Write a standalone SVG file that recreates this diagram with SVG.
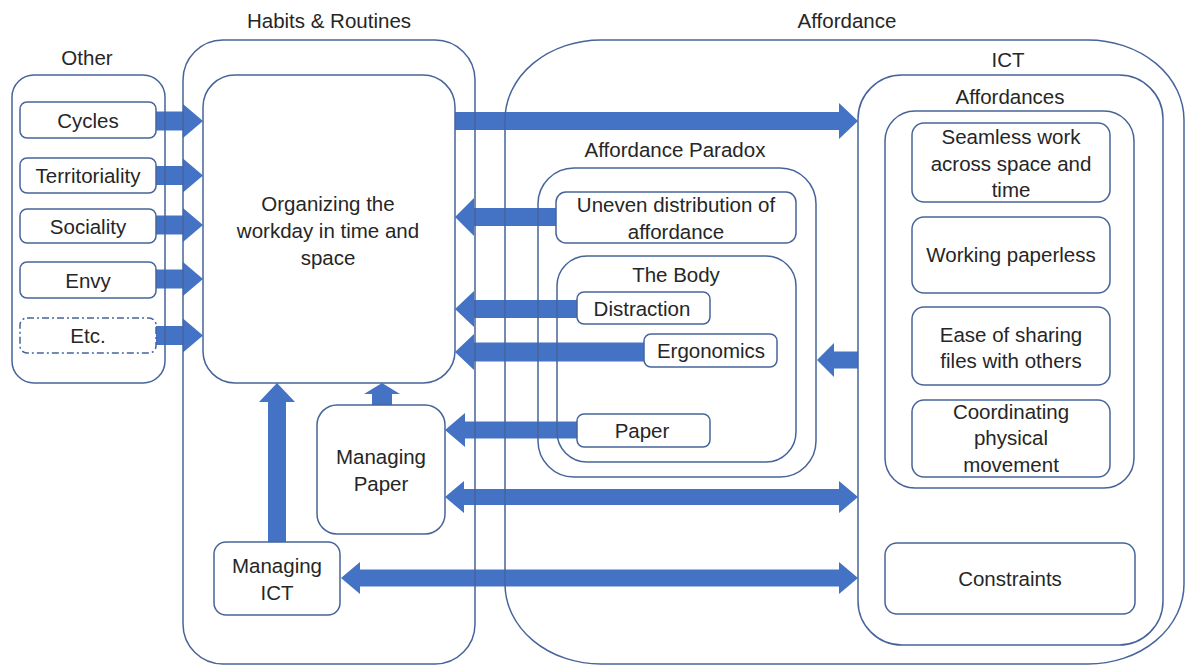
<svg xmlns="http://www.w3.org/2000/svg" width="1188" height="666" viewBox="0 0 1188 666">
<style>
.c{fill:none;stroke:#46649a;stroke-width:1.5}
.b{fill:#fff;stroke:#46649a;stroke-width:1.5}
.a{fill:#4472c4;stroke:none}
text{font-family:"Liberation Sans",Arial,sans-serif;font-size:20.5px;fill:#262626;text-anchor:middle}
</style>
<rect width="1188" height="666" fill="#fff"/>
<g id="connectors">
<polygon class="a" points="156,111.5 183,111.5 183,104 203,121 183,138 183,130.5 156,130.5"/>
<polygon class="a" points="156,166 183,166 183,158.5 203,175.5 183,192.5 183,185 156,185"/>
<polygon class="a" points="156,215.5 183,215.5 183,208 203,225 183,242 183,234.5 156,234.5"/>
<polygon class="a" points="156,269.5 183,269.5 183,262 203,279 183,296 183,288.5 156,288.5"/>
<polygon class="a" points="156,326 183,326 183,318.5 203,335.5 183,352.5 183,345 156,345"/>
<polygon class="a" points="455,112 839,112 839,103 858,121 839,139 839,130 455,130"/>
<polygon class="a" points="556,208 474,208 474,198 455,217 474,236 474,226 556,226"/>
<polygon class="a" points="577,300 474,300 474,291 455,309 474,327 474,318 577,318"/>
<polygon class="a" points="644,342.5 474,342.5 474,334 455,352 474,370 474,361.5 644,361.5"/>
<polygon class="a" points="858,351.5 834,351.5 834,343 817,360 834,377 834,368.5 858,368.5"/>
<polygon class="a" points="577,421.5 465,421.5 465,413 445,430 465,447 465,438.5 577,438.5"/>
<polygon class="a" points="464,489 839,489 839,481 858,497 839,513 839,505 464,505 464,513 445,497 464,481"/>
<polygon class="a" points="360,569.5 839,569.5 839,562 858,578 839,594 839,586.5 360,586.5 360,594 341,578 360,562"/>
<polygon class="a" points="268,542 268,402 259,402 277,383 295,402 286,402 286,542"/>
<polygon class="a" points="372,405 372,394 364,394 382,383 400,394 392,394 392,405"/>
</g>
<g id="other">
<text x="87" y="65">Other</text>
<rect class="c" x="12" y="75" width="153" height="308" rx="22"/>
</g>
<g id="cycles"><rect class="b" x="20" y="102" width="136" height="36" rx="7"/><text x="88" y="127.5">Cycles</text></g>
<g id="territoriality"><rect class="b" x="20" y="158" width="136" height="35" rx="7"/><text x="88" y="183">Territoriality</text></g>
<g id="sociality"><rect class="b" x="20" y="209" width="136" height="34" rx="7"/><text x="88" y="233.5">Sociality</text></g>
<g id="envy"><rect class="b" x="20" y="262" width="136" height="36" rx="7"/><text x="88" y="287.5">Envy</text></g>
<g id="etc"><rect class="b" x="20" y="318" width="136" height="35" rx="7" stroke-dasharray="7 3 2 3"/><text x="88" y="343">Etc.</text></g>
<g id="habits">
<text x="329" y="28">Habits &amp; Routines</text>
<rect class="c" x="183" y="40" width="292" height="624" rx="40"/>
</g>
<g id="organizing">
<rect class="b" x="203" y="75" width="252" height="308" rx="32"/>
<text x="328" y="211">Organizing the</text>
<text x="328" y="238">workday in time and</text>
<text x="328" y="265">space</text>
</g>
<g id="managing-paper">
<rect class="b" x="317" y="405" width="128" height="129" rx="20"/>
<text x="381" y="464">Managing</text>
<text x="381" y="491">Paper</text>
</g>
<g id="managing-ict">
<rect class="b" x="214" y="542" width="126" height="73" rx="12"/>
<text x="277" y="573">Managing</text>
<text x="277" y="600">ICT</text>
</g>
<g id="affordance">
<text x="847" y="28">Affordance</text>
<rect class="c" x="505" y="40" width="679" height="624" rx="96" ry="80"/>
</g>
<g id="affordance-paradox">
<text x="675" y="157">Affordance Paradox</text>
<rect class="c" x="538" y="168" width="278" height="309" rx="36"/>
</g>
<g id="uneven">
<rect class="b" x="556" y="192" width="240" height="51" rx="10"/>
<text x="676" y="212">Uneven distribution of</text>
<text x="676" y="239">affordance</text>
</g>
<g id="the-body">
<text x="676" y="282">The Body</text>
<rect class="c" x="557" y="256" width="239" height="206" rx="30"/>
</g>
<g id="distraction"><rect class="b" x="577" y="292" width="133" height="32" rx="7"/><text x="642" y="316">Distraction</text></g>
<g id="ergonomics"><rect class="b" x="644" y="334" width="133" height="33" rx="7"/><text x="711" y="358">Ergonomics</text></g>
<g id="paper"><rect class="b" x="577" y="414" width="133" height="33" rx="7"/><text x="642" y="438">Paper</text></g>
<g id="ict">
<text x="1008" y="67">ICT</text>
<rect class="c" x="858" y="75" width="305" height="570" rx="44"/>
</g>
<g id="affordances">
<text x="1010" y="104">Affordances</text>
<rect class="c" x="885" y="111" width="249" height="377" rx="30"/>
</g>
<g id="seamless">
<rect class="b" x="912" y="123" width="198" height="79" rx="12"/>
<text x="1011" y="144">Seamless work</text>
<text x="1011" y="171">across space and</text>
<text x="1011" y="197">time</text>
</g>
<g id="paperless">
<rect class="b" x="912" y="217" width="198" height="76" rx="12"/>
<text x="1011" y="262">Working paperless</text>
</g>
<g id="sharing">
<rect class="b" x="912" y="307" width="198" height="78" rx="12"/>
<text x="1011" y="342">Ease of sharing</text>
<text x="1011" y="368">files with others</text>
</g>
<g id="coordinating">
<rect class="b" x="912" y="400" width="198" height="77" rx="12"/>
<text x="1011" y="419">Coordinating</text>
<text x="1011" y="445">physical</text>
<text x="1011" y="472">movement</text>
</g>
<g id="constraints">
<rect class="b" x="885" y="543" width="250" height="71" rx="12"/>
<text x="1010" y="586">Constraints</text>
</g>
</svg>
